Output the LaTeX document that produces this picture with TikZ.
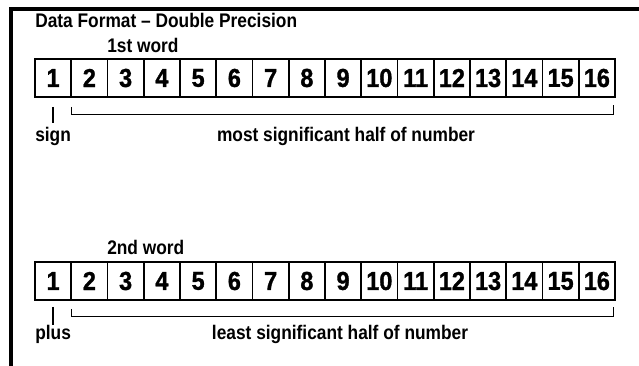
\documentclass[tikz,border=0pt]{standalone}
\usepackage{fontspec}
\setmainfont{Liberation Sans}[FakeStretch=0.88]
\newfontfamily\heavyfont{Liberation Sans}[FakeStretch=0.9, FakeBold=1.2]
\usepackage{tikz}
\usetikzlibrary{positioning, calc}

\begin{document}
\begin{tikzpicture}[x=0.025cm, y=-0.025cm,
    bitcell/.style={draw, line width=1.1pt, minimum width=0.906cm, minimum height=0.95cm,
      inner sep=0pt, font=\heavyfont\fontsize{18.5}{19}\selectfont\bfseries},
    txt/.style={inner sep=0pt, anchor=west, font=\fontsize{14}{15}\selectfont\bfseries},
    bracket/.style={line width=0.9pt}]
    \useasboundingbox (0,0) rectangle (639,366);

    % Frame
    \draw[line width=2.2pt] (11,366) -- (11,9) -- (639,9);

    % Title
    \node[txt] (title) at (35,20) {Data Format -- Double Precision};

    % First word
    \node[txt] (w1) at (107,45) {1st word};
    \foreach \i in {1,...,16}
      \node[bitcell] (a\i) at ({35+36.25*(\i-0.5)},78) {\i};
    \draw[bracket] ($(a2.south west)+(1,9)$) |- ($(a16.south east)+(-2,17)$) -- ++(0,-10);
    \draw[bracket] ($(a1.south)+(0,9)$) -- ++(0,16);
    \node[txt] (sign) at (35,136) {sign};
    \node[txt, anchor=center] (msh) at (346,136) {most significant half of number};

    % Second word
    \node[txt] (w2) at (107,247) {2nd word};
    \foreach \i in {1,...,16}
      \node[bitcell] (b\i) at ({35+36.25*(\i-0.5)},281) {\i};
    \draw[bracket] ($(b2.south west)+(1,8)$) |- ($(b2.south west)+(1,16)$) -| ($(b16.south east)+(-2,6)$);
    \draw[bracket] ($(b1.south)+(0,6)$) -- ++(0,18);
    \node[txt] (plus) at (35,334) {plus};
    \node[txt, anchor=center] (lsh) at (340,334) {least significant half of number};
\end{tikzpicture}
\end{document}
